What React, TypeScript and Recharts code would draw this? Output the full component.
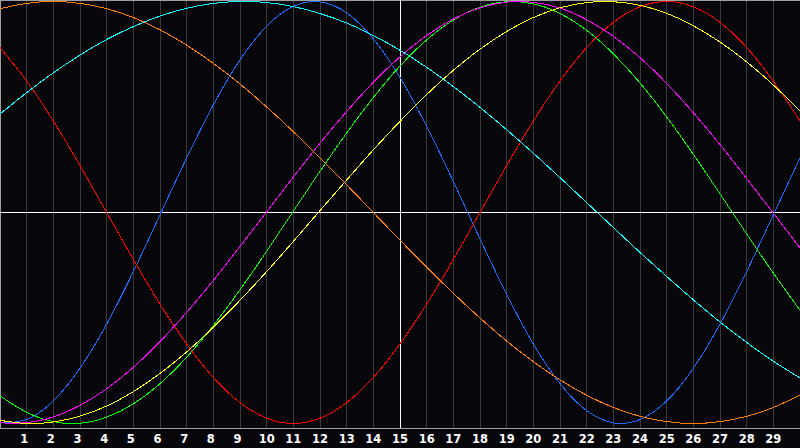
import { LineChart, Line, XAxis, YAxis, CartesianGrid, ReferenceLine } from 'recharts';

const days = [0, 1, 2, 3, 4, 5, 6, 7, 8, 9, 10, 11, 12, 13, 14, 15, 16, 17, 18, 19, 20, 21, 22, 23, 24, 25, 26, 27, 28, 29, 30];
const dayTicks = [1, 2, 3, 4, 5, 6, 7, 8, 9, 10, 11, 12, 13, 14, 15, 16, 17, 18, 19, 20, 21, 22, 23, 24, 25, 26, 27, 28, 29];

const blue = [-0.997, -0.981, -0.893, -0.738, -0.529, -0.28, -0.011, 0.259, 0.51, 0.723, 0.883, 0.977, 0.998, 0.946, 0.823, 0.64, 0.408, 0.147, -0.125, -0.388, -0.623, -0.811, -0.939, -0.997, -0.981, -0.893, -0.738, -0.529, -0.28, -0.011, 0.259];
const red = [0.782, 0.623, 0.434, 0.223, 0, -0.223, -0.434, -0.623, -0.782, -0.901, -0.975, -1, -0.975, -0.901, -0.782, -0.623, -0.434, -0.223, 0, 0.223, 0.434, 0.623, 0.782, 0.901, 0.975, 1, 0.975, 0.901, 0.782, 0.623, 0.434];
const green = [-0.869, -0.947, -0.991, -0.999, -0.97, -0.907, -0.811, -0.686, -0.536, -0.366, -0.184, 0.006, 0.195, 0.377, 0.545, 0.694, 0.818, 0.912, 0.973, 0.999, 0.989, 0.943, 0.863, 0.752, 0.614, 0.453, 0.276, 0.089, -0.101, -0.287, -0.463];
const magenta = [-0.997, -0.996, -0.969, -0.914, -0.835, -0.734, -0.612, -0.473, -0.322, -0.161, 0.003, 0.168, 0.328, 0.479, 0.617, 0.738, 0.839, 0.917, 0.97, 0.997, 0.996, 0.969, 0.914, 0.835, 0.734, 0.612, 0.473, 0.322, 0.161, -0.003, -0.168];
const yellow = [-0.985, -1, -0.993, -0.965, -0.917, -0.849, -0.763, -0.661, -0.544, -0.416, -0.28, -0.137, 0.009, 0.154, 0.297, 0.432, 0.559, 0.674, 0.774, 0.858, 0.924, 0.97, 0.995, 0.999, 0.982, 0.944, 0.885, 0.808, 0.714, 0.604, 0.482];
const orange = [0.966, 0.991, 1, 0.991, 0.966, 0.924, 0.866, 0.793, 0.707, 0.609, 0.5, 0.383, 0.259, 0.131, 0, -0.131, -0.259, -0.383, -0.5, -0.609, -0.707, -0.793, -0.866, -0.924, -0.966, -0.991, -1, -0.991, -0.966, -0.924, -0.866];
const cyan = [0.467, 0.568, 0.662, 0.746, 0.82, 0.881, 0.931, 0.968, 0.991, 1, 0.995, 0.976, 0.943, 0.898, 0.839, 0.769, 0.688, 0.597, 0.498, 0.392, 0.281, 0.165, 0.047, -0.071, -0.189, -0.303, -0.414, -0.519, -0.616, -0.705, -0.784];

const data = days.map((d, i) => ({
  day: d,
  blue: blue[i],
  red: red[i],
  green: green[i],
  magenta: magenta[i],
  yellow: yellow[i],
  orange: orange[i],
  cyan: cyan[i],
}));

const series = [
  { key: 'blue', color: '#1a6cff' },
  { key: 'red', color: '#ff0000' },
  { key: 'green', color: '#00ff00' },
  { key: 'magenta', color: '#ff00ff' },
  { key: 'yellow', color: '#ffff00' },
  { key: 'orange', color: '#ff8000' },
  { key: 'cyan', color: '#00ffff' },
];

const Y_MIN = -1.0213;
const Y_MAX = 1.0071;

function DayTick(props: any) {
  const { x, payload } = props;
  const v = payload.value;
  return (
    <text
      x={x + (v < 10 ? -2.5 : 0)}
      y={443}
      textAnchor='middle'
      fill='#ffffff'
      fontFamily='DejaVu Sans, sans-serif'
      fontWeight='bold'
      fontSize={11.5}
    >
      {v}
    </text>
  );
}

export default function App() {
  return (
    <div style={{ width: 800, height: 448, background: '#07060b' }}>
      <style>{'body{margin:0;background:#07060b}'}</style>
      <LineChart width={800} height={448} data={data} margin={{ top: 0, right: 0, bottom: 0, left: 0 }}>
        <CartesianGrid horizontal={false} stroke='#3a3a3a' shapeRendering='crispEdges' />
        <XAxis
          dataKey='day'
          type='number'
          domain={[0, 30]}
          ticks={dayTicks}
          interval={0}
          height={20}
          tickLine={false}
          axisLine={{ stroke: '#a0a0a0', shapeRendering: 'crispEdges' }}
          tick={<DayTick />}
        />
        <YAxis type='number' domain={[Y_MIN, Y_MAX]} hide />
        <ReferenceLine x={0} stroke='#a0a0a0' shapeRendering='crispEdges' />
        <ReferenceLine y={Y_MAX} stroke='#a0a0a0' shapeRendering='crispEdges' />
        <ReferenceLine x={15} stroke='#ffffff' shapeRendering='crispEdges' />
        <ReferenceLine y={0} stroke='#ffffff' shapeRendering='crispEdges' />
        {series.map((s) => (
          <Line
            key={s.key}
            type='natural'
            dataKey={s.key}
            stroke={s.color}
            strokeWidth={1}
            shapeRendering='crispEdges'
            dot={false}
            activeDot={false}
            isAnimationActive={false}
          />
        ))}
      </LineChart>
    </div>
  );
}
